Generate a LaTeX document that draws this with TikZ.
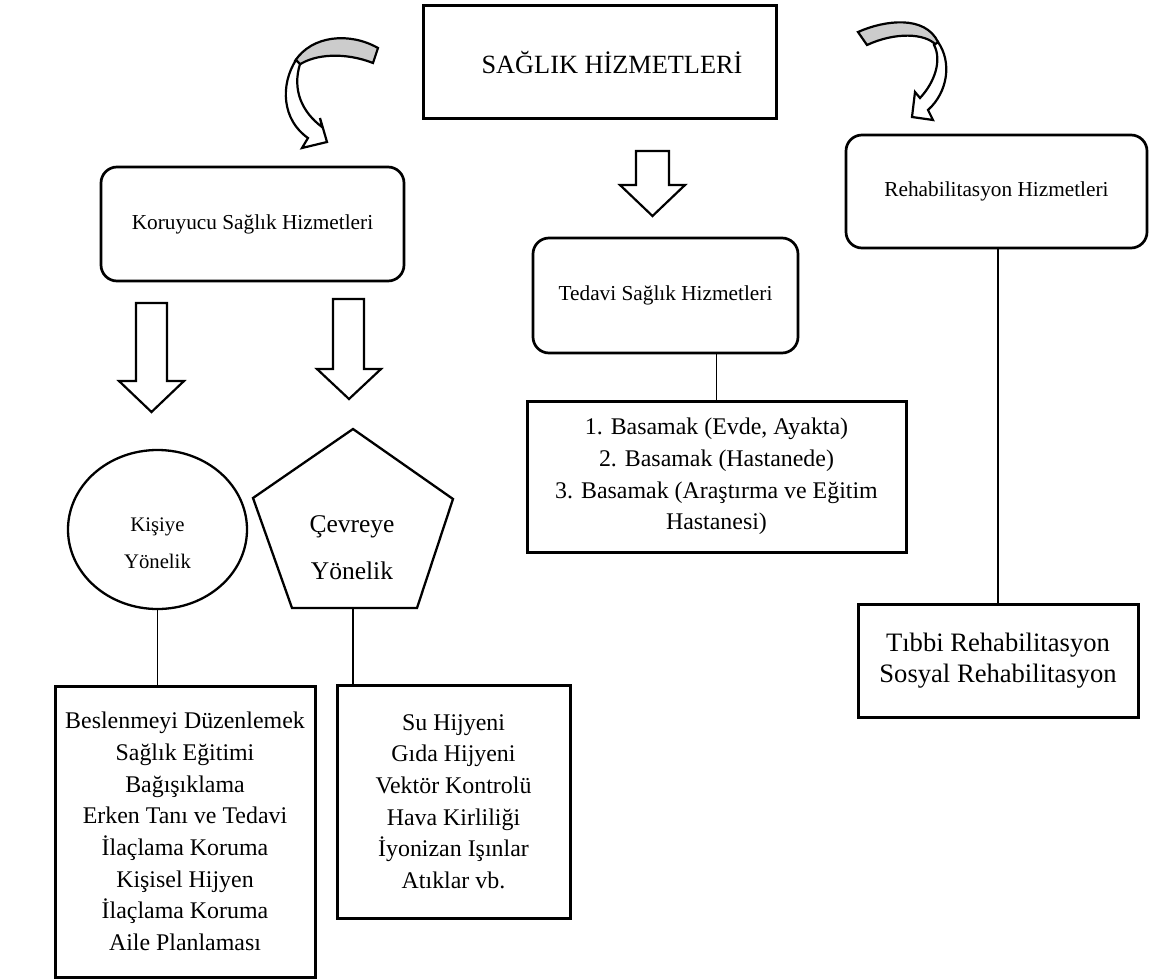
\documentclass[tikz,border=0pt]{standalone}
\usepackage{fontspec}
\setmainfont{Liberation Serif}
\usetikzlibrary{shapes.geometric}
\begin{document}
\begin{tikzpicture}[x=1pt,y=-1pt,
  rbox/.style={draw, line width=2.7pt, rounded corners=16pt, inner sep=0pt},
  sbox/.style={draw, line width=3pt, inner sep=0pt},
  link/.style={line width=1.3pt},
  blockarrow/.style={draw, line width=2.2pt, fill=white, line join=miter},
  curvearrow/.style={draw, line width=2.2pt, line join=miter},
  lbl/.style={font=\fontsize{21.3}{26}\selectfont},
  listtxt/.style={align=center, font=\fontsize{23.9}{31.7}\selectfont}]
\useasboundingbox (0,0) rectangle (1152,980);

% title
\node[sbox, minimum width=353pt, minimum height=113pt] (title) at (599.5,61.5) {};
\node[font=\fontsize{26.3}{30}\selectfont] (titletext) at (612,62) {SAĞLIK HİZMETLERİ};

% curved arrows (left)
\draw[curvearrow, fill=gray!40] (378,48) .. controls (350,32) and (312,35) .. (295,61)
  -- (299,65) .. controls (315,54) and (345,52) .. (373,63) -- cycle;
\draw[curvearrow, fill=white] (296,60) .. controls (280,85) and (282,120) .. (308,138)
  -- (302,148) -- (327,142) -- (320,118) -- (322,127)
  .. controls (302,112) and (292,90) .. (300,64) -- cycle;
% curved arrows (right)
\draw[curvearrow, fill=gray!40] (858,32) .. controls (885,20) and (925,15) .. (938,42)
  -- (936,45) .. controls (925,33) and (895,32) .. (867,45) -- cycle;
\draw[curvearrow, fill=white] (938,42) .. controls (952,62) and (948,92) .. (928,110)
  -- (933,120) -- (912,117) -- (915,92) -- (920,98)
  .. controls (935,82) and (942,60) .. (934,45) -- cycle;

% second level
\node[rbox, lbl, minimum width=303pt, minimum height=114pt] (kor) at (252.5,224) {Koruyucu Sağlık Hizmetleri};
\node[rbox, lbl, minimum width=265pt, minimum height=115pt] (ted) at (665.5,295.5) {Tedavi Sağlık Hizmetleri};
\node[rbox, lbl, minimum width=301pt, minimum height=113pt] (reh) at (996.5,191.5) {Rehabilitasyon Hizmetleri};

% block arrows
\draw[blockarrow] (636,151) -- (669,151) -- (669,185) -- (685,185) -- (652.5,216) -- (620,185) -- (636,185) -- cycle;
\draw[blockarrow] (136,303) -- (167,303) -- (167,381) -- (184,381) -- (151.5,412) -- (119,381) -- (136,381) -- cycle;
\draw[blockarrow] (333,299) -- (364,299) -- (364,369) -- (381,369) -- (349,399) -- (317,369) -- (333,369) -- cycle;

% ellipse and pentagon
\node[ellipse, draw, line width=2.3pt, minimum width=179pt, minimum height=159pt, inner sep=0pt] (kisi) at (157.5,529.5) {};
\node[align=center, font=\fontsize{20.7}{36.7}\selectfont] (kisitext) at (157.5,543) {Kişiye\\Yönelik};
\draw[line width=2.3pt, line join=miter] (353,429) -- (453,499) -- (417,608) -- (292,608) -- (253,498) -- cycle;
\coordinate (pentbot) at (353,608);
\node[align=center, font=\fontsize{25.5}{46.7}\selectfont] (cevretext) at (352,548) {Çevreye\\Yönelik};

% lists
\node[sbox, listtxt, minimum width=260pt, minimum height=291pt] (kisilist) at (185,831.5)
  {Beslenmeyi Düzenlemek\\Sağlık Eğitimi\\Bağışıklama\\Erken Tanı ve Tedavi\\İlaçlama Koruma\\Kişisel Hijyen\\İlaçlama Koruma\\Aile Planlaması};
\node[sbox, listtxt, minimum width=233pt, minimum height=233pt] (cevrelist) at (453.5,801.5)
  {Su Hijyeni\\Gıda Hijyeni\\Vektör Kontrolü\\Hava Kirliliği\\İyonizan Işınlar\\Atıklar vb.};
\node[sbox, listtxt, minimum width=379pt, minimum height=151pt] (tedlist) at (716.5,476.5)
  {1. Basamak (Evde, Ayakta)\\2. Basamak (Hastanede)\\3. Basamak (Araştırma ve Eğitim\\Hastanesi)};
\node[sbox, align=center, font=\fontsize{26.6}{31.7}\selectfont, minimum width=280pt, minimum height=113pt] (rehlist) at (998,660.5)
  {Tıbbi Rehabilitasyon\\Sosyal Rehabilitasyon};

% connectors
\draw[link] (kisi.south) -- (kisi.south |- kisilist.north);
\draw[link] (pentbot) -- (pentbot |- cevrelist.north);
\draw[link] (ted.south -| tedlist.north) -- (tedlist.north);
\draw[link] (reh.south -| rehlist.north) -- (rehlist.north);
\end{tikzpicture}
\end{document}
